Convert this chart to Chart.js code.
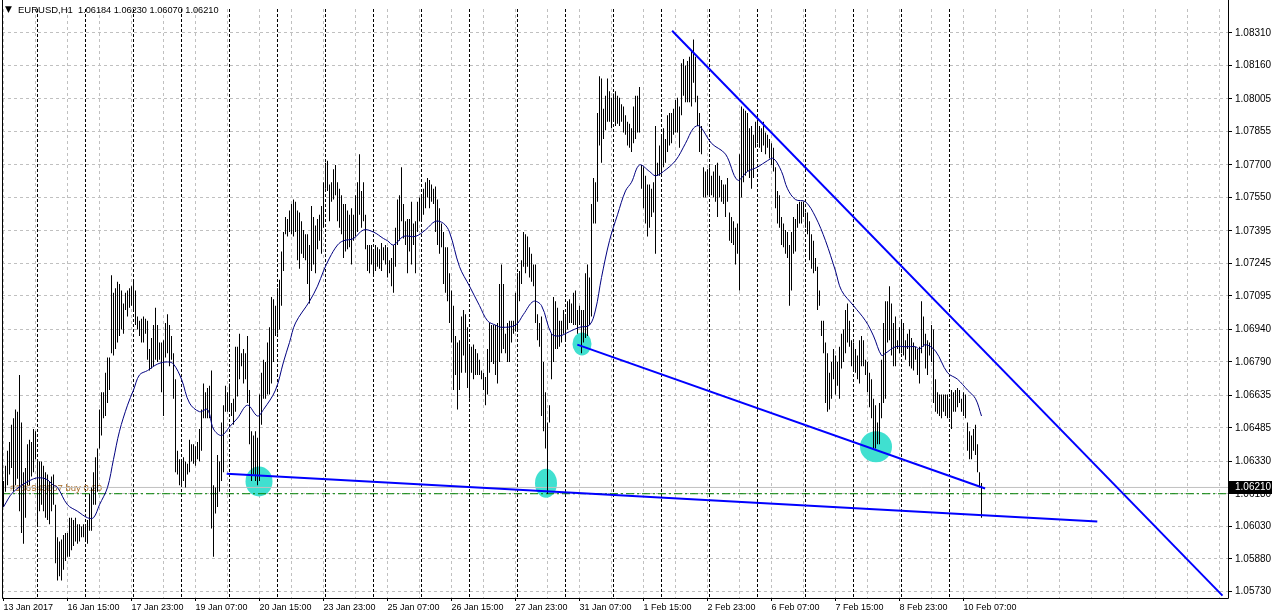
<!DOCTYPE html>
<html>
<head>
<meta charset="utf-8">
<script src="https://cdn.jsdelivr.net/npm/chart.js@4.4.1/dist/chart.umd.min.js"></script>
<style>
  html, body { margin: 0; padding: 0; background: #ffffff; }
  #myChart { display: block; }
</style>
</head>
<body>
<canvas id="myChart" width="1272" height="616"></canvas>
<script>
const canvas = document.getElementById("myChart");
const ctx = canvas.getContext("2d");
Chart.defaults.font.family = "'Liberation Sans', Arial, sans-serif";
Chart.defaults.color = '#000000';

// quote header
const symbol = 'EURUSD,H1';
const lastQuote = [1.06184, 1.06230, 1.06070, 1.06210];
const bidPrice = 1.06210;
const orderPrice = 1.06181;
const orderText = '#106943807 buy 0.20';

// time axis (bar index -> label)
const labelIdx = [0, 32, 64, 96, 128, 160, 192, 224, 256, 288, 320, 352, 384, 416, 448, 480];
const timeLabels = ['13 Jan 2017', '16 Jan 15:00', '17 Jan 23:00', '19 Jan 07:00', '20 Jan 15:00',
  '23 Jan 23:00', '25 Jan 07:00', '26 Jan 15:00', '27 Jan 23:00', '31 Jan 07:00', '1 Feb 15:00',
  '2 Feb 23:00', '6 Feb 07:00', '7 Feb 15:00', '8 Feb 23:00', '10 Feb 07:00'];
// day separators (first bar of each day)
const daySeps = [17, 41, 65, 89, 113, 137, 161, 185, 209, 233, 257, 281, 305, 329, 353, 377, 401, 425, 449, 473];
const priceTicks = [1.05730, 1.05880, 1.06030, 1.06180, 1.06330, 1.06485, 1.06635, 1.06790, 1.06940,
  1.07095, 1.07245, 1.07395, 1.07550, 1.07700, 1.07855, 1.08005, 1.08160, 1.08310];

// H1 bars, high / low
const highs = [
  1.0624, 1.0631, 1.0638, 1.0642, 1.0650, 1.0653, 1.0657, 1.0656, 1.0673, 1.0651,
  1.0628, 1.0630, 1.0641, 1.0643, 1.0642, 1.0648, 1.0647, 1.0634, 1.0633, 1.0633,
  1.0631, 1.0628, 1.0627, 1.0624, 1.0626, 1.0627, 1.0613, 1.0598, 1.0596, 1.0597,
  1.0599, 1.0600, 1.0600, 1.0607, 1.0607, 1.0606, 1.0607, 1.0604, 1.0604, 1.0603,
  1.0604, 1.0604, 1.0606, 1.0618, 1.0621, 1.0628, 1.0635, 1.0639, 1.0657, 1.0665,
  1.0665, 1.0674, 1.0681, 1.0681, 1.0719, 1.0711, 1.0713, 1.0716, 1.0715, 1.0712,
  1.0706, 1.0711, 1.0712, 1.0713, 1.0714, 1.0716, 1.0712, 1.0700, 1.0698, 1.0699,
  1.0700, 1.0699, 1.0698, 1.0685, 1.0690, 1.0696, 1.0704, 1.0696, 1.0688, 1.0688,
  1.0689, 1.0697, 1.0701, 1.0696, 1.0691, 1.0683, 1.0671, 1.0638, 1.0634, 1.0634,
  1.0635, 1.0633, 1.0632, 1.0643, 1.0641, 1.0641, 1.0640, 1.0642, 1.0648, 1.0657,
  1.0669, 1.0665, 1.0667, 1.0668, 1.0675, 1.0622, 1.0621, 1.0636, 1.0633, 1.0651,
  1.0659, 1.0668, 1.0665, 1.0669, 1.0660, 1.0662, 1.0686, 1.0686, 1.0692, 1.0683,
  1.0685, 1.0683, 1.0691, 1.0666, 1.0647, 1.0645, 1.0647, 1.0644, 1.0664, 1.0674,
  1.0680, 1.0679, 1.0688, 1.0695, 1.0709, 1.0708, 1.0705, 1.0713, 1.0717, 1.0730,
  1.0739, 1.0746, 1.0745, 1.0749, 1.0752, 1.0754, 1.0753, 1.0749, 1.0748, 1.0744,
  1.0740, 1.0738, 1.0738, 1.0733, 1.0751, 1.0746, 1.0742, 1.0745, 1.0747, 1.0751,
  1.0762, 1.0771, 1.0772, 1.0761, 1.0762, 1.0768, 1.0770, 1.0762, 1.0759, 1.0756,
  1.0752, 1.0752, 1.0749, 1.0747, 1.0750, 1.0747, 1.0756, 1.0762, 1.0775, 1.0758,
  1.0762, 1.0747, 1.0733, 1.0733, 1.0733, 1.0731, 1.0733, 1.0732, 1.0731, 1.0734,
  1.0732, 1.0733, 1.0732, 1.0726, 1.0727, 1.0733, 1.0741, 1.0754, 1.0756, 1.0769,
  1.0752, 1.0744, 1.0745, 1.0745, 1.0753, 1.0743, 1.0744, 1.0753, 1.0755, 1.0756,
  1.0759, 1.0762, 1.0764, 1.0763, 1.0761, 1.0759, 1.0760, 1.0754, 1.0750, 1.0743,
  1.0739, 1.0732, 1.0732, 1.0720, 1.0712, 1.0705, 1.0691, 1.0688, 1.0689, 1.0700,
  1.0703, 1.0701, 1.0695, 1.0686, 1.0686, 1.0687, 1.0685, 1.0683, 1.0680, 1.0675,
  1.0674, 1.0672, 1.0685, 1.0697, 1.0696, 1.0696, 1.0696, 1.0697, 1.0715, 1.0724,
  1.0715, 1.0692, 1.0697, 1.0698, 1.0698, 1.0698, 1.0711, 1.0720, 1.0721, 1.0726,
  1.0739, 1.0738, 1.0737, 1.0732, 1.0729, 1.0724, 1.0724, 1.0701, 1.0697, 1.0700,
  1.0679, 1.0665, 1.0651, 1.0659, 1.0692, 1.0709, 1.0707, 1.0704, 1.0698, 1.0698,
  1.0703, 1.0700, 1.0707, 1.0708, 1.0706, 1.0711, 1.0712, 1.0703, 1.0705, 1.0703,
  1.0703, 1.0720, 1.0724, 1.0718, 1.0752, 1.0764, 1.0762, 1.0794, 1.0811, 1.0810,
  1.0796, 1.0802, 1.0810, 1.0804, 1.0801, 1.0803, 1.0804, 1.0802, 1.0801, 1.0798,
  1.0797, 1.0793, 1.0790, 1.0789, 1.0787, 1.0797, 1.0802, 1.0802, 1.0806, 1.0770,
  1.0769, 1.0765, 1.0761, 1.0761, 1.0759, 1.0762, 1.0788, 1.0771, 1.0779, 1.0784,
  1.0787, 1.0782, 1.0793, 1.0794, 1.0794, 1.0796, 1.0800, 1.0801, 1.0797, 1.0817,
  1.0819, 1.0816, 1.0818, 1.0820, 1.0823, 1.0828, 1.0820, 1.0802, 1.0794, 1.0788,
  1.0769, 1.0767, 1.0768, 1.0769, 1.0765, 1.0767, 1.0770, 1.0771, 1.0765, 1.0763,
  1.0761, 1.0761, 1.0764, 1.0748, 1.0746, 1.0744, 1.0741, 1.0743, 1.0775, 1.0797,
  1.0796, 1.0795, 1.0794, 1.0787, 1.0788, 1.0784, 1.0790, 1.0790, 1.0788, 1.0787,
  1.0790, 1.0785, 1.0784, 1.0782, 1.0780, 1.0778, 1.0769, 1.0758, 1.0756, 1.0746,
  1.0743, 1.0740, 1.0739, 1.0733, 1.0739, 1.0746, 1.0745, 1.0752, 1.0753, 1.0753,
  1.0753, 1.0748, 1.0748, 1.0744, 1.0738, 1.0735, 1.0727, 1.0723, 1.0712, 1.0698,
  1.0698, 1.0688, 1.0683, 1.0674, 1.0679, 1.0685, 1.0682, 1.0679, 1.0686, 1.0692,
  1.0694, 1.0703, 1.0706, 1.0698, 1.0689, 1.0688, 1.0685, 1.0682, 1.0689, 1.0691,
  1.0689, 1.0680, 1.0679, 1.0674, 1.0671, 1.0662, 1.0659, 1.0651, 1.0660, 1.0680,
  1.0697, 1.0707, 1.0707, 1.0714, 1.0706, 1.0697, 1.0700, 1.0689, 1.0695, 1.0698,
  1.0697, 1.0689, 1.0692, 1.0694, 1.0690, 1.0688, 1.0686, 1.0685, 1.0686, 1.0707,
  1.0700, 1.0692, 1.0689, 1.0688, 1.0696, 1.0694, 1.0671, 1.0665, 1.0664, 1.0664,
  1.0664, 1.0664, 1.0664, 1.0662, 1.0666, 1.0665, 1.0666, 1.0667, 1.0666, 1.0662,
  1.0665, 1.0664, 1.0651, 1.0647, 1.0645, 1.0648, 1.0650, 1.0641, 1.0628, 1.06230
];
const lows = [
  1.0612, 1.0619, 1.0622, 1.0627, 1.0630, 1.0619, 1.0622, 1.0625, 1.0610, 1.0600,
  1.0595, 1.0607, 1.0622, 1.0622, 1.0626, 1.0628, 1.0634, 1.0604, 1.0610, 1.0613,
  1.0610, 1.0607, 1.0606, 1.0604, 1.0610, 1.0613, 1.0586, 1.0578, 1.0580, 1.0578,
  1.0583, 1.0587, 1.0589, 1.0589, 1.0592, 1.0594, 1.0596, 1.0595, 1.0596, 1.0598,
  1.0598, 1.0596, 1.0595, 1.0601, 1.0601, 1.0613, 1.0613, 1.0619, 1.0639, 1.0645,
  1.0653, 1.0654, 1.0660, 1.0666, 1.0683, 1.0682, 1.0685, 1.0688, 1.0691, 1.0694,
  1.0692, 1.0703, 1.0700, 1.0704, 1.0705, 1.0703, 1.0696, 1.0694, 1.0691, 1.0688,
  1.0688, 1.0692, 1.0680, 1.0675, 1.0676, 1.0677, 1.0680, 1.0679, 1.0680, 1.0665,
  1.0654, 1.0681, 1.0683, 1.0677, 1.0680, 1.0662, 1.0628, 1.0627, 1.0622, 1.0622,
  1.0624, 1.0621, 1.0627, 1.0628, 1.0633, 1.0632, 1.0631, 1.0634, 1.0633, 1.0638,
  1.0653, 1.0653, 1.0653, 1.0653, 1.0602, 1.0589, 1.0609, 1.0612, 1.0619, 1.0624,
  1.0628, 1.0656, 1.0656, 1.0657, 1.0654, 1.0650, 1.0656, 1.0663, 1.0671, 1.0677,
  1.0669, 1.0671, 1.0660, 1.0641, 1.0624, 1.0627, 1.0624, 1.0622, 1.0624, 1.0650,
  1.0662, 1.0662, 1.0664, 1.0664, 1.0669, 1.0679, 1.0691, 1.0692, 1.0694, 1.0705,
  1.0721, 1.0738, 1.0737, 1.0739, 1.0738, 1.0737, 1.0739, 1.0726, 1.0722, 1.0729,
  1.0727, 1.0726, 1.0715, 1.0706, 1.0721, 1.0724, 1.0720, 1.0731, 1.0735, 1.0729,
  1.0741, 1.0759, 1.0758, 1.0744, 1.0753, 1.0754, 1.0756, 1.0744, 1.0741, 1.0738,
  1.0727, 1.0730, 1.0731, 1.0732, 1.0724, 1.0735, 1.0737, 1.0739, 1.0747, 1.0741,
  1.0744, 1.0731, 1.0721, 1.0720, 1.0724, 1.0719, 1.0721, 1.0723, 1.0722, 1.0721,
  1.0726, 1.0724, 1.0718, 1.0720, 1.0714, 1.0711, 1.0723, 1.0733, 1.0735, 1.0744,
  1.0736, 1.0733, 1.0720, 1.0730, 1.0724, 1.0733, 1.0720, 1.0739, 1.0744, 1.0744,
  1.0747, 1.0750, 1.0755, 1.0750, 1.0753, 1.0752, 1.0739, 1.0733, 1.0729, 1.0732,
  1.0715, 1.0711, 1.0707, 1.0697, 1.0688, 1.0666, 1.0673, 1.0657, 1.0666, 1.0674,
  1.0682, 1.0674, 1.0667, 1.0662, 1.0674, 1.0671, 1.0673, 1.0673, 1.0673, 1.0671,
  1.0666, 1.0659, 1.0664, 1.0674, 1.0679, 1.0678, 1.0673, 1.0669, 1.0679, 1.0683,
  1.0685, 1.0683, 1.0679, 1.0679, 1.0688, 1.0692, 1.0693, 1.0694, 1.0707, 1.0715,
  1.0723, 1.0720, 1.0723, 1.0718, 1.0716, 1.0714, 1.0697, 1.0689, 1.0686, 1.0654,
  1.0647, 1.0639, 1.0618, 1.0651, 1.0671, 1.0679, 1.0685, 1.0685, 1.0686, 1.0688,
  1.0692, 1.0689, 1.0694, 1.0697, 1.0697, 1.0696, 1.0696, 1.0692, 1.0696, 1.0683,
  1.0688, 1.0690, 1.0691, 1.0696, 1.0700, 1.0743, 1.0743, 1.0753, 1.0779, 1.0771,
  1.0782, 1.0786, 1.0790, 1.0790, 1.0787, 1.0791, 1.0788, 1.0789, 1.0788, 1.0790,
  1.0785, 1.0784, 1.0779, 1.0778, 1.0776, 1.0780, 1.0782, 1.0785, 1.0785, 1.0759,
  1.0750, 1.0743, 1.0737, 1.0741, 1.0746, 1.0748, 1.0729, 1.0765, 1.0765, 1.0766,
  1.0769, 1.0771, 1.0776, 1.0779, 1.0780, 1.0784, 1.0785, 1.0785, 1.0778, 1.0793,
  1.0802, 1.0799, 1.0799, 1.0799, 1.0797, 1.0808, 1.0799, 1.0788, 1.0776, 1.0775,
  1.0755, 1.0755, 1.0756, 1.0756, 1.0756, 1.0755, 1.0753, 1.0746, 1.0755, 1.0753,
  1.0752, 1.0746, 1.0753, 1.0735, 1.0734, 1.0733, 1.0724, 1.0729, 1.0712, 1.0755,
  1.0762, 1.0765, 1.0767, 1.0764, 1.0759, 1.0764, 1.0778, 1.0780, 1.0778, 1.0776,
  1.0779, 1.0775, 1.0778, 1.0773, 1.0770, 1.0767, 1.0750, 1.0743, 1.0741, 1.0733,
  1.0732, 1.0729, 1.0727, 1.0705, 1.0712, 1.0729, 1.0730, 1.0741, 1.0743, 1.0743,
  1.0746, 1.0741, 1.0738, 1.0726, 1.0722, 1.0720, 1.0721, 1.0703, 1.0705, 1.0691,
  1.0683, 1.0660, 1.0656, 1.0657, 1.0662, 1.0671, 1.0664, 1.0668, 1.0662, 1.0676,
  1.0679, 1.0683, 1.0688, 1.0686, 1.0677, 1.0675, 1.0674, 1.0671, 1.0669, 1.0677,
  1.0677, 1.0673, 1.0665, 1.0658, 1.0653, 1.0639, 1.0639, 1.0641, 1.0641, 1.0653,
  1.0660, 1.0662, 1.0688, 1.0689, 1.0682, 1.0677, 1.0677, 1.0685, 1.0683, 1.0683,
  1.0682, 1.0680, 1.0685, 1.0677, 1.0676, 1.0675, 1.0680, 1.0673, 1.0669, 1.0683,
  1.0686, 1.0676, 1.0673, 1.0682, 1.0679, 1.0660, 1.0656, 1.0655, 1.0654, 1.0653,
  1.0656, 1.0654, 1.0653, 1.0653, 1.0648, 1.0656, 1.0656, 1.0658, 1.0660, 1.0656,
  1.0654, 1.0653, 1.0638, 1.0634, 1.0634, 1.0638, 1.0636, 1.0628, 1.0621, 1.06070
];

// moving average, read at selected bars
const maIdx = [0, 5, 15, 21, 25, 27, 32, 37, 42, 45, 48, 52, 55, 58, 62, 65, 68, 72, 77, 82,
  85, 89, 93, 98, 102, 105, 109, 113, 117, 122, 127, 130, 136, 140, 143, 146, 153, 157, 160, 163,
  167, 170, 175, 180, 185, 190, 192, 195, 200, 206, 211, 216, 220, 223, 228, 233, 238, 242, 246, 249,
  256, 260, 265, 269, 274, 278, 283, 288, 293, 296, 299, 303, 307, 311, 314, 318, 323, 326, 330, 336,
  341, 345, 348, 354, 361, 367, 372, 377, 382, 385, 389, 392, 396, 401, 406, 411, 416, 419, 425, 431,
  435, 439, 441, 446, 451, 456, 458, 461, 466, 472, 477, 482, 486, 489];
const maVal = [1.0612, 1.0619, 1.0625, 1.0625, 1.0622, 1.0621, 1.0613, 1.0610, 1.0607, 1.0607,
  1.0613, 1.0621, 1.0634, 1.0647, 1.0659, 1.0666, 1.0673, 1.0675, 1.0678, 1.0679,
  1.0678, 1.0671, 1.0660, 1.0656, 1.0657, 1.0648, 1.0645, 1.0649, 1.0653, 1.0659,
  1.0654, 1.0657, 1.0666, 1.0679, 1.0688, 1.0697, 1.0707, 1.0714, 1.0721, 1.0727,
  1.0733, 1.0735, 1.0736, 1.0740, 1.0739, 1.0736, 1.0735, 1.0733, 1.0737, 1.0737,
  1.0740, 1.0744, 1.0743, 1.0739, 1.0723, 1.0714, 1.0705, 1.0698, 1.0696, 1.0695,
  1.0696, 1.0701, 1.0707, 1.0705, 1.0692, 1.0691, 1.0693, 1.0695, 1.0696, 1.0703,
  1.0718, 1.0735, 1.0747, 1.0758, 1.0762, 1.0770, 1.0767, 1.0765, 1.0767, 1.0772,
  1.0780, 1.0787, 1.0788, 1.0780, 1.0775, 1.0763, 1.0767, 1.0769, 1.0772, 1.0773,
  1.0767, 1.0759, 1.0754, 1.0753, 1.0746, 1.0735, 1.0721, 1.0712, 1.0705, 1.0698,
  1.0691, 1.0682, 1.0683, 1.0686, 1.0686, 1.0686, 1.0685, 1.0687, 1.0684, 1.0674,
  1.0671, 1.0666, 1.0662, 1.0654];

// trend lines (bar index, price)
const upperLineX = [334.3, 609.5];
const upperLineY = [1.0832, 1.0571];
const midLineX = [286.9, 490.8];
const midLineY = [1.06870, 1.06205];
const lowLineX = [111.6, 546.9];
const lowLineY = [1.06273, 1.06053];

// highlighted touches
const markIdx = [127.75, 271.25, 289.25, 436.25];
const markPrice = [1.06238, 1.06229, 1.06873, 1.06398];

// layout / style
const xMin = -0.75, xMax = 612.25;
const yMin = 1.056992, yMax = 1.084206;
const markSize = [[27, 30], [22, 29], [19, 23], [32, 31]];
const gridIdx = [];
for (let v = 0; v <= 608; v += 16) gridIdx.push(v);

function pts(xs, ys) {
  return xs.map((v, i) => ({ x: v, y: ys[i] }));
}

const decorations = {
  id: 'decorations',
  beforeDatasetsDraw(chart) {
    const { ctx, chartArea: a, scales: { x, y } } = chart;
    ctx.save();
    ctx.beginPath();
    ctx.rect(a.left, a.top, a.right - a.left, a.bottom - a.top);
    ctx.clip();
    ctx.fillStyle = '#40e0d0';
    markIdx.forEach((v, i) => {
      ctx.beginPath();
      ctx.ellipse(x.getPixelForValue(v), y.getPixelForValue(markPrice[i]),
        markSize[i][0] / 2, markSize[i][1] / 2, 0, 0, Math.PI * 2);
      ctx.fill();
    });
    // order label
    ctx.font = "9.5px 'Liberation Sans', Arial, sans-serif";
    ctx.fillStyle = '#a86a24';
    ctx.textBaseline = 'alphabetic';
    ctx.fillText(orderText, a.left + 8, y.getPixelForValue(orderPrice) - 3);
    ctx.restore();
  },
  afterDraw(chart) {
    const { ctx, chartArea: a, scales: { y } } = chart;
    ctx.save();
    // frame
    ctx.strokeStyle = '#000000';
    ctx.lineWidth = 1;
    ctx.beginPath();
    ctx.moveTo(a.left + 0.5, 0);
    ctx.lineTo(a.left + 0.5, a.bottom + 0.5);
    ctx.lineTo(a.right + 0.5, a.bottom + 0.5);
    ctx.lineTo(a.right + 0.5, 0);
    ctx.stroke();
    // header
    ctx.fillStyle = '#000000';
    ctx.textBaseline = 'middle';
    ctx.font = "9px 'DejaVu Sans', sans-serif";
    ctx.fillText('\u25BC', 5, 10);
    ctx.font = "9.5px 'Liberation Sans', Arial, sans-serif";
    ctx.fillText(symbol, 18, 10);
    ctx.font = "9.2px 'Liberation Sans', Arial, sans-serif";
    ctx.fillText(lastQuote.map(v => v.toFixed(5)).join(' '), 78, 10);
    // bid price box
    const yp = Math.round(y.getPixelForValue(bidPrice));
    ctx.fillStyle = '#000000';
    ctx.fillRect(a.right + 1, yp - 6, 1272 - a.right, 13);
    ctx.fillStyle = '#ffffff';
    ctx.font = "10px 'Liberation Sans', Arial, sans-serif";
    ctx.fillText(bidPrice.toFixed(5), a.right + 7, yp + 0.5);
    ctx.restore();
  }
};

const chart = new Chart(ctx, {
  type: 'bar',
  data: {
    datasets: [
      {
        type: 'line', label: 'Upper', data: pts(upperLineX, upperLineY),
        borderColor: '#0000ff', borderWidth: 2, pointRadius: 0, order: 1
      },
      {
        type: 'line', label: 'Middle', data: pts(midLineX, midLineY),
        borderColor: '#0000ff', borderWidth: 2, pointRadius: 0, order: 1
      },
      {
        type: 'line', label: 'Lower', data: pts(lowLineX, lowLineY),
        borderColor: '#0000ff', borderWidth: 2, pointRadius: 0, order: 1
      },
      {
        type: 'line', label: 'MA', data: pts(maIdx, maVal),
        borderColor: '#000080', borderWidth: 1, pointRadius: 0, tension: 0.35, order: 2
      },
      {
        type: 'bar', label: 'EURUSD',
        data: highs.map((h, i) => ({ x: i, y: [lows[i], h] })),
        backgroundColor: '#000000', borderWidth: 0, barThickness: 1,
        inflateAmount: 0, order: 3
      },
      {
        type: 'line', label: 'Bid', data: pts([xMin, xMax], [bidPrice, bidPrice]),
        borderColor: '#c0c0c0', borderWidth: 1, pointRadius: 0, order: 4
      },
      {
        type: 'line', label: 'Order', data: pts([xMin, xMax], [orderPrice, orderPrice]),
        borderColor: '#008000', borderWidth: 1, borderDash: [8, 3, 2, 3], pointRadius: 0, order: 4
      }
    ]
  },
  options: {
    responsive: false,
    devicePixelRatio: 1,
    animation: false,
    events: [],
    layout: { padding: { left: 2, top: 2, right: 0, bottom: 0 } },
    plugins: { legend: { display: false }, tooltip: { enabled: false } },
    scales: {
      x: {
        type: 'linear', position: 'bottom', min: xMin, max: xMax, offset: false,
        afterBuildTicks: s => { s.ticks = gridIdx.map(v => ({ value: v })); },
        afterFit: s => { s.height = 18; },
        ticks: {
          autoSkip: false, maxRotation: 0, minRotation: 0, align: 'start', padding: 1,
          color: '#000000', font: { size: 9 },
          callback: v => {
            const k = labelIdx.indexOf(v);
            return k < 0 ? '' : timeLabels[k];
          }
        },
        grid: {
          offset: false, color: '#c0c0c0', lineWidth: 1, tickLength: 3,
          tickColor: c => (c.tick && labelIdx.includes(c.tick.value)) ? '#000000' : 'rgba(0,0,0,0)'
        },
        border: { display: false, dash: [3, 3] }
      },
      sep: {
        type: 'linear', axis: 'x', position: 'bottom', min: xMin, max: xMax, offset: false,
        afterBuildTicks: s => { s.ticks = daySeps.map(v => ({ value: v })); },
        afterFit: s => { s.height = 0; },
        ticks: { display: false },
        grid: { offset: false, color: '#000000', lineWidth: 1, drawTicks: false },
        border: { display: false, dash: [3, 2] }
      },
      y: {
        type: 'linear', position: 'right', min: yMin, max: yMax,
        afterBuildTicks: s => { s.ticks = priceTicks.map(v => ({ value: v })); },
        afterFit: s => { s.width = 44; },
        ticks: {
          padding: 3, color: '#000000', font: { size: 10 },
          callback: v => v.toFixed(5)
        },
        grid: { color: '#c0c0c0', lineWidth: 1, tickColor: '#000000', tickLength: 4 },
        border: { display: false, dash: [3, 3] }
      }
    }
  },
  plugins: [decorations]
});
</script>
</body>
</html>
